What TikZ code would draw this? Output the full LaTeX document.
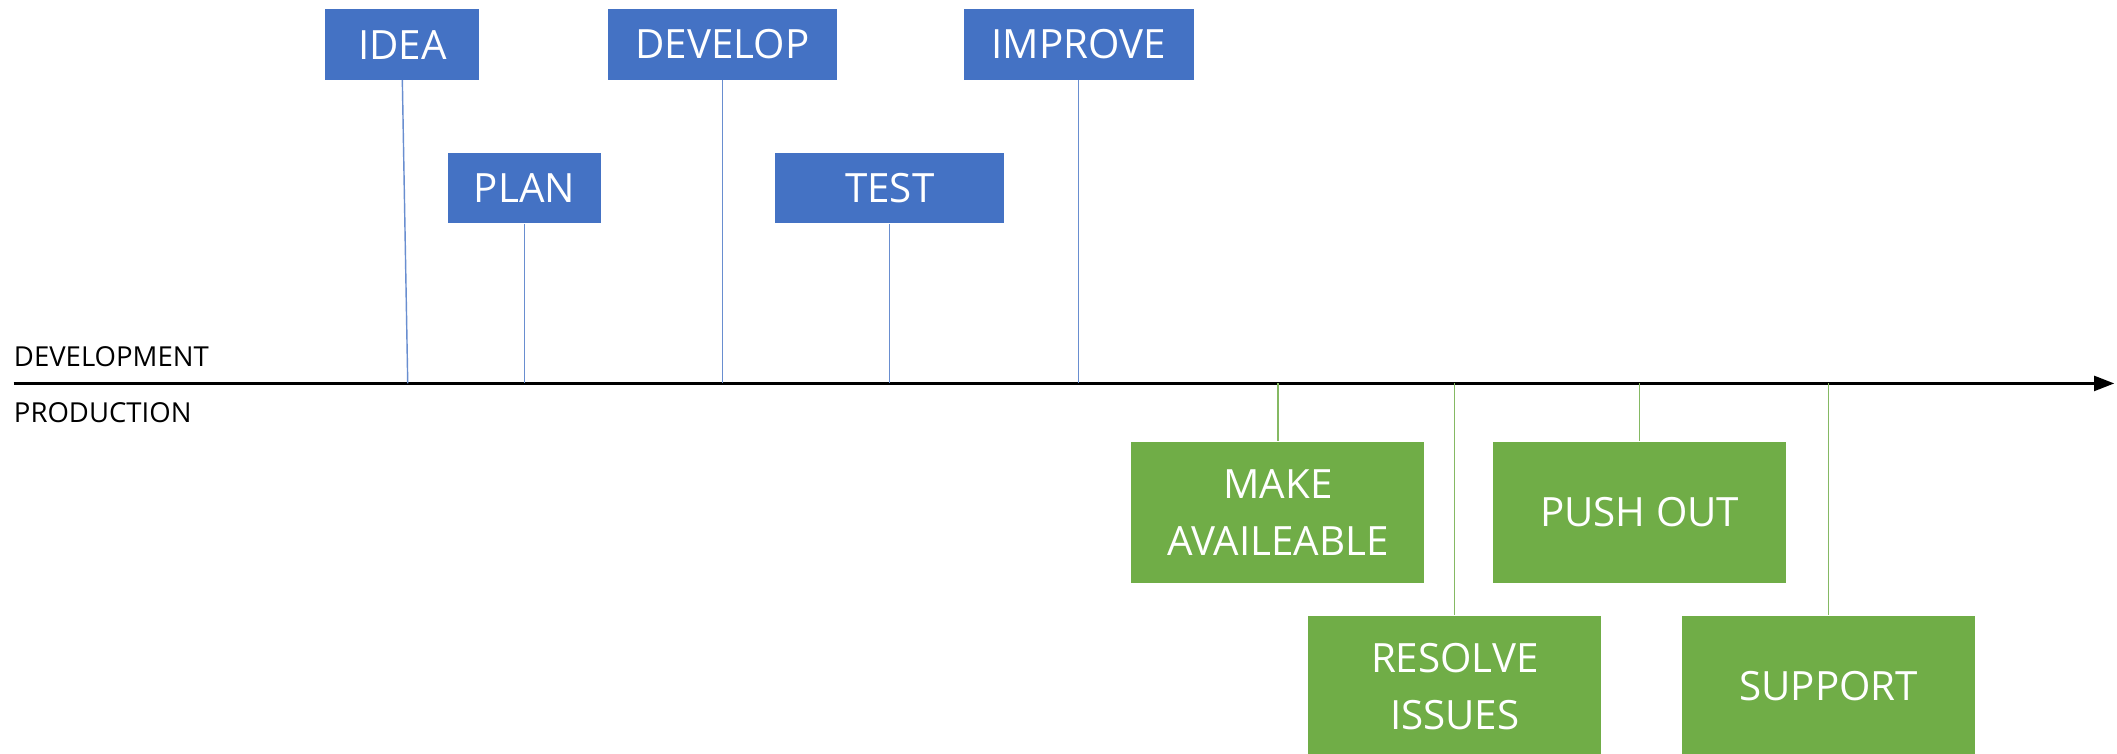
\documentclass[tikz,border=0pt]{standalone}
\usepackage{fontspec}
\setmainfont{Open Sans}
\usepackage{tikz}
\usetikzlibrary{arrows.meta, positioning}
\definecolor{devblue}{RGB}{68,114,196}
\definecolor{prodgreen}{RGB}{112,173,71}

\tikzset{
  devbox/.style={fill=devblue, text=white, minimum height=1.04cm, inner sep=0pt,
    font=\fontsize{17}{24}\selectfont},
  prodbox/.style={fill=prodgreen, text=white, minimum width=4.34cm, minimum height=2.1cm,
    inner sep=0pt, align=center, font=\fontsize{17}{24}\selectfont},
  devline/.style={devblue!80, line width=0.6pt},
  prodline/.style={prodgreen!85, line width=0.6pt},
  sidelbl/.style={anchor=west, inner sep=0pt, font=\fontsize{11.6}{14}\selectfont}
}

\begin{document}
\begin{tikzpicture}[x=0.02cm, y=-0.02cm]
  \useasboundingbox (0,0) rectangle (1568,558);
  % timeline
  \coordinate (tl-start) at (10,284);
  \coordinate (tl-end) at (1566,284);
  \draw[line width=1.2pt, -{Triangle[length=0.3cm, width=0.22cm]}] (tl-start) -- (tl-end);
  \node[sidelbl] (devlbl) at (10,264) {DEVELOPMENT};
  \node[sidelbl] (prodlbl) at (10,306) {PRODUCTION};
  % development steps: name, label, centre x, centre y, width, x on timeline
  \foreach \name/\lbl/\cx/\cy/\w/\ax in {
    idea/IDEA/298/33/2.28/302,
    plan/PLAN/388.5/139.5/2.26/388.5,
    develop/DEVELOP/535/33/3.4/535,
    test/TEST/659/139.5/3.4/659,
    improve/IMPROVE/799/33/3.4/799
  }{
    \node[devbox, minimum width=\w cm] (\name) at (\cx,\cy) {\lbl};
    \coordinate (\name-ax) at (\ax,284);
    \draw[devline] (\name.south) -- (\name-ax);
  }
  % production steps
  \foreach \name/\lbl/\cx/\cy in {
    avail/{MAKE\\AVAILEABLE}/946.5/379.5,
    resolve/{RESOLVE\\ISSUES}/1077.5/508.5,
    push/{PUSH OUT}/1214.5/379.5,
    support/SUPPORT/1354.5/508.5
  }{
    \node[prodbox] (\name) at (\cx,\cy) {\lbl};
    \coordinate (\name-ax) at (\cx,284);
    \draw[prodline] (\name-ax) -- (\name.north);
  }
\end{tikzpicture}
\end{document}
